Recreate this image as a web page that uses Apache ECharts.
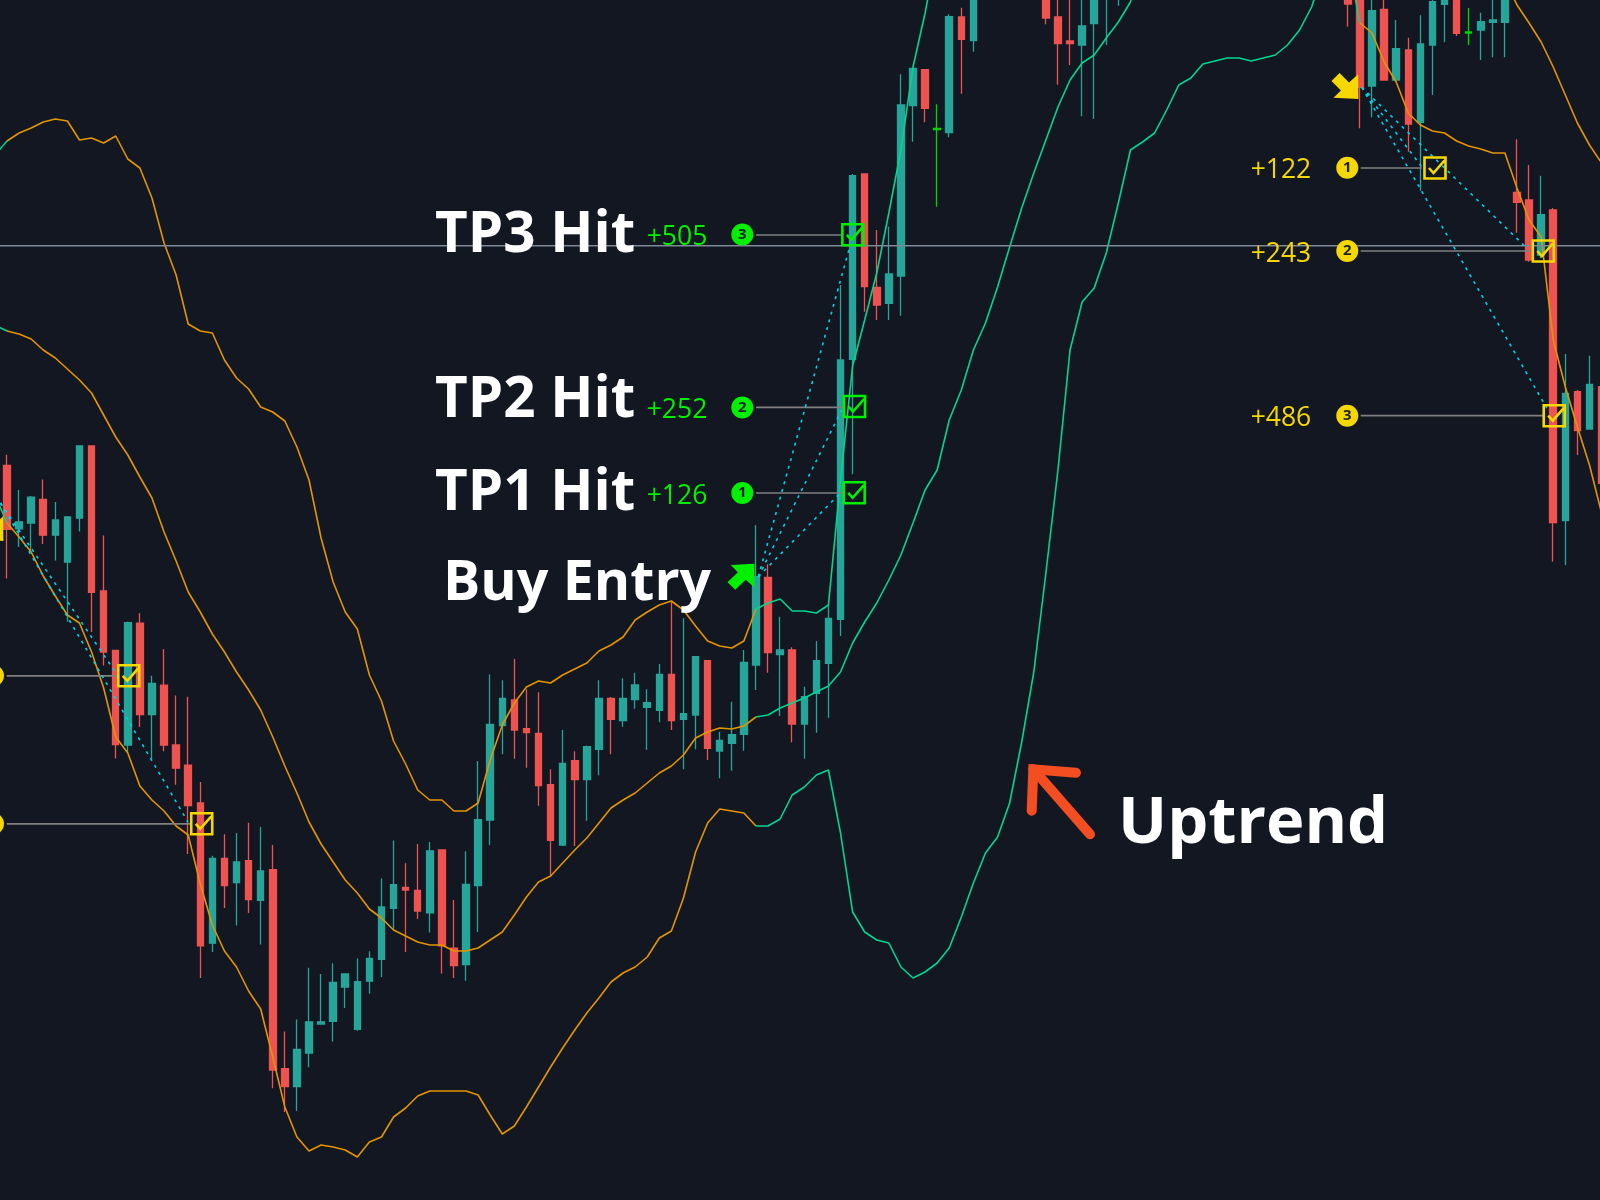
<!doctype html>
<html>
<head>
<meta charset="UTF-8">
<title>Uptrend signals</title>
<style>
  html,body{margin:0;padding:0;background:#131722;}
  #main{width:1600px;height:1200px;}
</style>
</head>
<body>
<div id="main"></div>
<script src="https://cdn.jsdelivr.net/npm/echarts@6/dist/echarts.min.js"></script>
<script>
// price is in points above the bottom of the window
// [open, close, low, high], first candle is index 0
var candles = [
  [734.5,670.6,621.5,745.2],[671.1,678.2,653,710],[676.9,702.8,648.3,704.1],[700.5,664.8,655.9,720.6],
  [664.8,680,639.4,697.9],[638,683.1,578.2,684],[681.8,754.1,668.4,754.1],[754.1,607.7,568,754.1],
  [609,547.9,534.5,664.4],[549.6,455.4,441.6,549.6],[455,577.3,447.4,578.2],[576.9,485.4,472.9,587.1],
  [485.4,516.6,441.6,524.2],[514.8,455,448.7,551],[455,431.8,415.3,504.6],[434.9,394.3,346.1,503.2],
  [397,254.1,222,418],[256.8,341.6,247.9,344.3],[341.6,314.4,292,365.7],[317.5,338,274.6,367],
  [339.4,300.5,287.1,377.3],[299.6,329.1,255.5,372.9],[330.4,130,111.7,355],[131.3,113.5,88,168.4],
  [113.5,150.5,89,180.4],[147,178.2,132.7,232.2],[176,178.2,176,226],[178.7,217.5,158.6,236.7],
  [213,226,192,226],[170.6,218.4,169.3,241.6],[218.8,241.6,206.3,248.7],[240.7,293,223,321.5],
  [291.6,315.3,271,359.5],[312.6,310,247.9,336.7],[309.5,289,281,356],[287.1,349.2,267.5,358.1],
  [350.1,254.1,226.4,350.1],[251.9,234.5,222,300.1],[235.4,315.7,219.3,348.7],[314.4,380.4,268,439],
  [380,475.5,355,525.5],[474.3,501.7,445.7,519.7],[500,470,441.3,541],[471.3,467.3,432.3,510.7],
  [466.7,414.3,394.3,507.7],[415.3,359.7,323.3,430.7],[355,436.7,354,470],[439.3,420.3,354,448.7],
  [420.3,453.3,379.3,454.3],[450.7,501.7,424.7,519.7],[501.7,480.7,445.7,503],[479.3,501.7,473.3,521.7],
  [500.3,515,491.3,527.3],[492.7,497.3,450.3,510.7],[489.7,525.7,477.7,536],[525.7,479.3,470,599],
  [480.7,486.3,430.7,581.7],[485,543.3,450.7,544],[539.3,451.7,440,539.3],[449,459.7,421.7,468.3],
  [456.7,465.3,429.3,498.3],[465.7,537.7,449.3,550],[535,623.3,510,675],[622.7,547.3,527.3,635.7],
  [545.3,550,484,583.3],[550,476,457.7,552.7],[476,503.3,441.3,513.3],[506.7,539.3,467.3,559],
  [536.7,581.7,482.3,595],[580.7,840,564,915],[840.7,1024.3,725.7,1026],[1026,913.3,888.3,1026],
  [912.7,895,880,970],[896.7,926,880,973.3],[924,1095,884.3,1125.7],[1094.3,1131.7,1058.3,1132],
  [1130.3,1091.7,1077.7,1130.3],[1070.3,1071.7,993.3,1095.7],[1067.3,1183.3,1062.7,1185.7],[1183,1160.7,1106.3,1192.3],
  [1159.3,1210,1148.3,1215],null,null,null,null,null,
  [1210,1182,1175.7,1215],[1183,1156.3,1115.3,1215],[1159,1156.3,1135,1215],[1155,1174,1083.7,1215],
  [1176.3,1210,1081,1215],[1210,1215,1155,1220],[1210,1215,1194.3,1220],
  null,null,null,null,null,null,null,null,null,null,null,null,null,null,null,null,null,null,
  [1210,1196,1173.3,1215],[1210,1112.7,1071.7,1215],[1114,1189.3,1082.7,1210],[1190.7,1120,1120,1210],
  [1120,1151.3,1119,1180],[1150,1076,1048.3,1162.3],[1077.7,1156,1009.3,1184.7],[1155,1198.3,1105,1210],
  [1195.7,1205,1157.7,1210],[1201,1166.7,1164,1210],[1167,1168,1155,1192],[1170,1178.3,1140,1187.3],
  [1177.7,1180,1142.7,1210],[1177.7,1205,1142.7,1210],[1007.7,997.7,967.3,1060.7],[1000,940,938.3,1035],
  [945,985.3,942,1024.3],[990,677.3,638.3,992],[679.3,806.7,635,846],[808.3,769.3,745,810],
  [771,815.7,771,844.3],[813.3,716.7,716.7,813.3]
];
// dojis the indicator paints green
var greenCandles = [77, 121];

// bands, first value sits one bar before candle 0
var upperBand = [1045,1059,1067,1072,1078,1081,1079,1060,1062,1057,1064,1041,1032,1002,957,925,876,869,867,840,
  822,811,793,788,779,753,720,662,618,588,571,525,499,459,436,410,400,400,389,389,397,440,475,497,513,519,517,525,
  531,537,549,555,563,580,588,595,599,590,574,559,554,552,559,591,597,601,589,589,587,595,720,834,880,927,987,1050,
  1133,1187,1250];
var upperBandLate = [1220,1195,1177,1158,1133,1105,1077,1055,1037]; // candles 124 to 132
var middleBand = [875,869,866,861,850,842,831,820,807,785,763,745,723,702,668,639,608,588,566,548,528,510,490,463,
  434,407,378,356,338,320,307,291,282,270,264,258,255,255,249,249,252,260,268,285,303,318,324,337,350,362,377,392,
  400,407,417,427,434,445,462,468,472,471,474,483,485,492,497,502,508,514,528,557,578,597,620,645,677,710,730,780,
  810,850,877,913,953,992,1027,1060,1093,1120,1137,1145,1162,1178,1198,1245];
var lowerBand = [705,677,663,648,624,604,585,577,548,512,463,447,414,400,389,374,365,316,275,249,233,209,191,143,93,
  63,49,55,53,50,43,58,63,83,92,104,109,109,109,109,105,85,66,74,93,113,133,152,170,187,202,218,227,233,243,262,269,
  302,348,377,391,389,387,374,374,381,405,413,425,430,367,288,268,260,257,233,222,228,237,252,283,317,347,363,397,
  458,528,627,730,850,898,912,947,997,1050,1058,1067,1090,1115,1122,1136,1139,1142,1142,1139,1142,1145,1155,1170,
  1193,1230,1260,1240,1177,1167,1138,1118,1087,1075,1069,1067,1059,1054,1051,1047,1047,1012,980,963,860,813,773,735,687];

var currentPrice = 954.3;

// trade marks, x in candle numbers (fractions allowed), y in price
var buyArrow = [[60.76, 623.3]];
var sellArrows = [[-1.41, 672], [110.76, 1114]];
var buyCircles = [[60.87, 707], [60.87, 792.5], [60.87, 965.5]];
var sellCircles = [[110.95, 1032.3], [110.95, 949], [110.95, 784.3], [-1.16, 524.2], [-1.16, 376.2]];
var buyCircleText = ['1', '2', '3'];
var sellCircleText = ['1', '2', '3', '', ''];
var buyPips = ['+126', '+252', '+505'];
var sellPips = ['+122', '+243', '+486', '', ''];
var buyBoxes = [[70.13, 707.2], [70.16, 793.5], [70.02, 965.2]];
var sellBoxes = [[118.21, 1032], [127.18, 949], [128.08, 784.3], [10.08, 524.2], [16.12, 376.2]];
var hitLeaders = [
  [[62, 707], [69.2, 707]], [[62, 792.7], [69.2, 792.7]], [[62, 965], [69.2, 965]],
  [[112.06, 1032], [117.11, 1032]], [[112.06, 949], [126.22, 949]], [[112.06, 784.3], [127.32, 784.3]],
  [[-0.02, 524.2], [9.19, 524.2]], [[-0.02, 376.2], [15.23, 376.2]]
];
var dottedPaths = [
  [[62.2, 623.3], [68.96, 706.7]], [[62.2, 623.3], [69.1, 790]], [[62.2, 623.3], [69.73, 951.7]],
  [[112.15, 1112.7], [117.1, 1033.3]], [[112.15, 1112.7], [125.8, 952]], [[112.15, 1112.7], [127.46, 792]],
  [[-0.54, 697], [9.08, 526]], [[-0.54, 697], [14.98, 378]]
];

var ORANGE = '#e39500', TREND_GREEN = '#00d68f', TEAL = '#26a69a', RED = '#ef5350';
var HIT_GREEN = '#00f000', HIT_YELLOW = '#f5d800';
var ARROW_UP = 'path://M83 0L10 4L32 26L0 57L24 80L56 49L83 73Z';
var ARROW_DOWN = 'path://M80 77L6 73L28 52L0 24L24 0L52 28L79 4Z';
var BOX_CHECK = 'path://M0 0H21V21H0ZM4.5 10.5L9 15.5L20 3';

// one bar before candle 0 so the bands reach the left edge
var bars = [null].concat(candles);
var categories = bars.map(function(c, i){ return String(i - 1); });
var upperAll = upperBand.concat(new Array(124 - 78).fill(null), upperBandLate);

function trendPart(values, from, to){
  return bars.map(function(c, i){
    var v = values[i];
    return (i >= from && i <= to && v != null) ? v : null;
  });
}
function bandSeries(values){
  var parts = [[0, 1, TREND_GREEN], [1, 63, ORANGE], [63, 113, TREND_GREEN], [113, 133, ORANGE]];
  return parts.map(function(p){
    return {
      type:'line', xAxisIndex:0, yAxisIndex:0, z:3, silent:true, showSymbol:false, symbol:'none',
      data:trendPart(values, p[0], p[1]), lineStyle:{color:p[2], width:1.6}
    };
  });
}
function markLine(points, color, width, dash, z){
  return {
    type:'line', xAxisIndex:1, yAxisIndex:0, z:z, silent:true, showSymbol:false, symbol:'none',
    data:points, lineStyle:{color:color, width:width, type:dash}
  };
}
function circleSeries(points, texts, color){
  return {
    type:'scatter', xAxisIndex:1, yAxisIndex:0, z:8, silent:true, symbol:'circle', symbolSize:22,
    data:points.map(function(p, i){ return {value:p, label:{formatter:texts[i]}}; }),
    itemStyle:{color:color, opacity:1},
    label:{show:true, position:'inside', color:'#1c2030', fontFamily:'"Open Sans"', fontWeight:700, fontSize:15}
  };
}
function pipSeries(points, texts, color, distance){
  return {
    type:'scatter', xAxisIndex:1, yAxisIndex:0, z:8, silent:true, symbol:'circle', symbolSize:22,
    data:points.map(function(p, i){ return {value:p, label:{formatter:texts[i]}}; }),
    itemStyle:{color:'rgba(0,0,0,0)', opacity:1},
    label:{show:true, position:'left', distance:distance, offset:[0, 3], color:color,
      fontFamily:'"Open Sans"', fontWeight:400, fontSize:26.5}
  };
}
function boxSeries(points, color){
  return {
    type:'scatter', xAxisIndex:1, yAxisIndex:0, z:7, silent:true, symbol:BOX_CHECK, symbolSize:21,
    data:points, itemStyle:{color:'rgba(0,0,0,0)', borderColor:color, borderWidth:2.6, opacity:1}
  };
}
function arrowSeries(points, shape, color){
  return {
    type:'scatter', xAxisIndex:1, yAxisIndex:0, z:8, silent:true, symbol:shape, symbolSize:[27, 26],
    data:points, itemStyle:{color:color, opacity:1}
  };
}

var series = [{
  type:'candlestick', xAxisIndex:0, yAxisIndex:0, z:2, silent:true, barWidth:7,
  itemStyle:{color:TEAL, color0:RED, borderColor:TEAL, borderColor0:RED, borderWidth:1.3},
  data:bars.map(function(c, i){
    if(!c) return ['-', '-', '-', '-'];
    if(greenCandles.indexOf(i - 1) >= 0){
      return {value:c, itemStyle:{color:'#00d400', color0:'#00d400', borderColor:'#00d400', borderColor0:'#00d400'}};
    }
    return c;
  })
}];
series = series.concat(bandSeries(upperAll), bandSeries(middleBand), bandSeries(lowerBand));
series.push(markLine([[-1.5, currentPrice], [132.5, currentPrice]], '#7f8896', 1.6, 'solid', 4));
hitLeaders.forEach(function(p){ series.push(markLine(p, '#808080', 1.7, 'solid', 5)); });
dottedPaths.forEach(function(p){ series.push(markLine(p, '#00d4e4', 1.6, [3, 5], 6)); });
series.push(boxSeries(buyBoxes, HIT_GREEN), boxSeries(sellBoxes, HIT_YELLOW));
series.push(circleSeries(buyCircles, buyCircleText, HIT_GREEN), circleSeries(sellCircles, sellCircleText, HIT_YELLOW));
series.push(pipSeries(buyCircles, buyPips, HIT_GREEN, 24), pipSeries(sellCircles, sellPips, HIT_YELLOW, 25));
series.push(arrowSeries(buyArrow, ARROW_UP, HIT_GREEN), arrowSeries(sellArrows, ARROW_DOWN, HIT_YELLOW));

function caption(text, x, y, size){
  return {
    type:'text', z:100, silent:true,
    style:{text:text, x:x, y:y, fill:'#ffffff', textAlign:'left', textVerticalAlign:'middle',
      font:'700 ' + size + 'px "Open Sans"'}
  };
}

var myChart = echarts.init(document.getElementById('main'), null, {renderer:'canvas'});
myChart.setOption({
  animation:false,
  backgroundColor:'#131722',
  // grid runs past the window on both sides, the outer candles are cut off
  grid:{left:-11.12, right:-7.6, top:0, bottom:0, containLabel:false, outerBoundsMode:'none'},
  xAxis:[
    {type:'category', data:categories, show:false, boundaryGap:true},
    {type:'value', min:-1.5, max:132.5, show:false}
  ],
  yAxis:[{type:'value', min:0, max:1200, show:false, splitLine:{show:false}}],
  series:series,
  graphic:[
    caption('TP3 Hit', 435, 236, 56.5),
    caption('TP2 Hit', 435, 401, 56.5),
    caption('TP1 Hit', 435, 494, 56.5),
    caption('Buy Entry', 443, 584, 55.5),
    caption('Uptrend', 1118, 824, 65),
    {
      type:'polyline', z:100, silent:true,
      shape:{points:[[1076, 772.7], [1033.3, 769.3], [1031.7, 810.7]]},
      style:{stroke:'#f24e22', lineWidth:10, lineCap:'round', lineJoin:'miter', fill:null}
    },
    {
      type:'polyline', z:100, silent:true,
      shape:{points:[[1033.3, 769.3], [1090, 834.3]]},
      style:{stroke:'#f24e22', lineWidth:10, lineCap:'round', fill:null}
    }
  ]
});
</script>
</body>
</html>
